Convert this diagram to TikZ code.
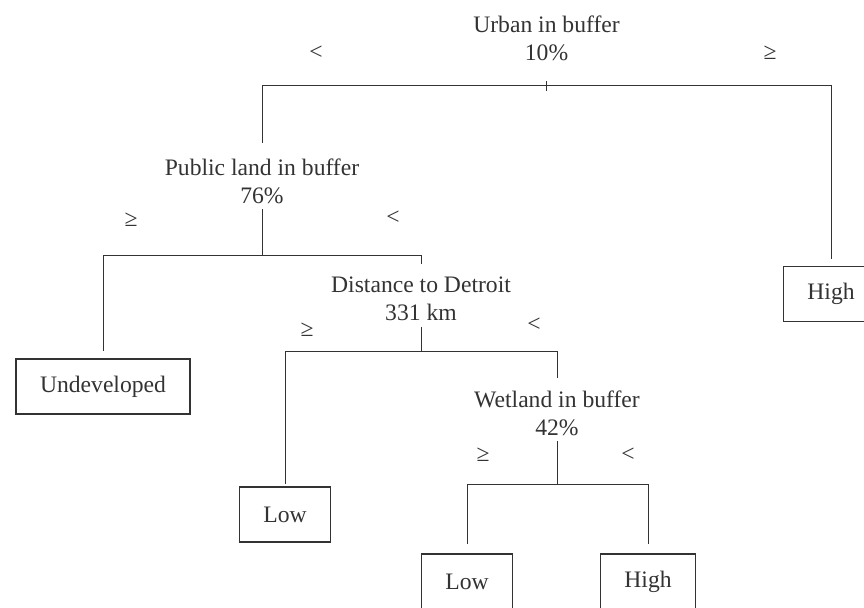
\documentclass[tikz,border=0pt]{standalone}
\usepackage{fontspec}
\setmainfont{Liberation Serif}
\usepackage{xcolor}
\definecolor{Ink}{HTML}{333333}
\newcommand{\treefont}{\fontsize{16.8}{20}\selectfont}

\begin{document}
\begin{tikzpicture}[x=1cm,y=1cm,
  splitnode/.style={align=center,inner xsep=2pt,inner ysep=4pt,font=\treefont,text=Ink},
  cmp/.style={inner sep=1pt,font=\treefont,text=Ink},
  leaf/.style={draw=Ink,line width=0.9pt,minimum height=1.375cm,inner xsep=0.6cm,font=\treefont,text=Ink},
  branch/.style={draw=Ink,line width=0.7pt}]
\useasboundingbox (0,0) rectangle (21.600,15.175);
% root split
\node[splitnode] (urban) at (13.663,14.225) {Urban in buffer\\10\%};
\node[cmp] (ltA) at (7.900,13.850) {<};
\node[cmp] (geA) at (19.250,13.850) {≥};
\coordinate (barA) at (13.663,13.050);
\coordinate (barAl) at (6.550,13.050);
\coordinate (barAr) at (20.775,13.050);
\draw[branch] (barAl) -- (barAr);
\draw[branch] ([yshift=3pt]barA) -- ([yshift=-4pt]barA);
\node[splitnode] (public) at (6.550,10.650) {Public land in buffer\\76\%};
\node[leaf] (highA) at (20.775,7.825) {High};
\draw[branch,shorten >=7pt] (barAl) -- (public);
\draw[branch,shorten >=5pt] (barAr) -- (highA);
% public land split
\node[cmp] (geB) at (3.275,9.675) {≥};
\node[cmp] (ltB) at (9.825,9.725) {<};
\coordinate (barB) at (6.550,8.800);
\coordinate (barBl) at (2.575,8.800);
\coordinate (barBr) at (10.525,8.800);
\draw[branch] (public) -- (barB);
\draw[branch] (barBl) -- (barBr);
\node[leaf] (undev) at (2.575,5.513) {Undeveloped};
\node[splitnode] (detroit) at (10.525,7.700) {Distance to Detroit\\331 km};
\draw[branch,shorten >=5pt] (barBl) -- (undev);
\draw[branch,shorten >=5pt] (barBr) -- (detroit);
% distance split
\node[cmp] (geC) at (7.675,6.925) {≥};
\node[cmp] (ltC) at (13.350,7.050) {<};
\coordinate (barC) at (10.525,6.400);
\coordinate (barCl) at (7.125,6.400);
\coordinate (barCr) at (13.925,6.400);
\draw[branch] (detroit) -- (barC);
\draw[branch] (barCl) -- (barCr);
\node[leaf] (lowA) at (7.125,2.313) {Low};
\node[splitnode] (wetland) at (13.925,4.850) {Wetland in buffer\\42\%};
\draw[branch,shorten >=2pt] (barCl) -- (lowA);
\draw[branch,shorten >=5pt] (barCr) -- (wetland);
% wetland split
\node[cmp] (geD) at (12.075,3.800) {≥};
\node[cmp] (ltD) at (15.700,3.800) {<};
\coordinate (barD) at (13.925,3.075);
\coordinate (barDl) at (11.675,3.075);
\coordinate (barDr) at (16.200,3.075);
\draw[branch] (wetland) -- (barD);
\draw[branch] (barDl) -- (barDr);
\node[leaf] (lowB) at (11.675,0.638) {Low};
\node[leaf] (highB) at (16.200,0.638) {High};
\draw[branch,shorten >=7pt] (barDl) -- (lowB);
\draw[branch,shorten >=7pt] (barDr) -- (highB);
\end{tikzpicture}
\end{document}
